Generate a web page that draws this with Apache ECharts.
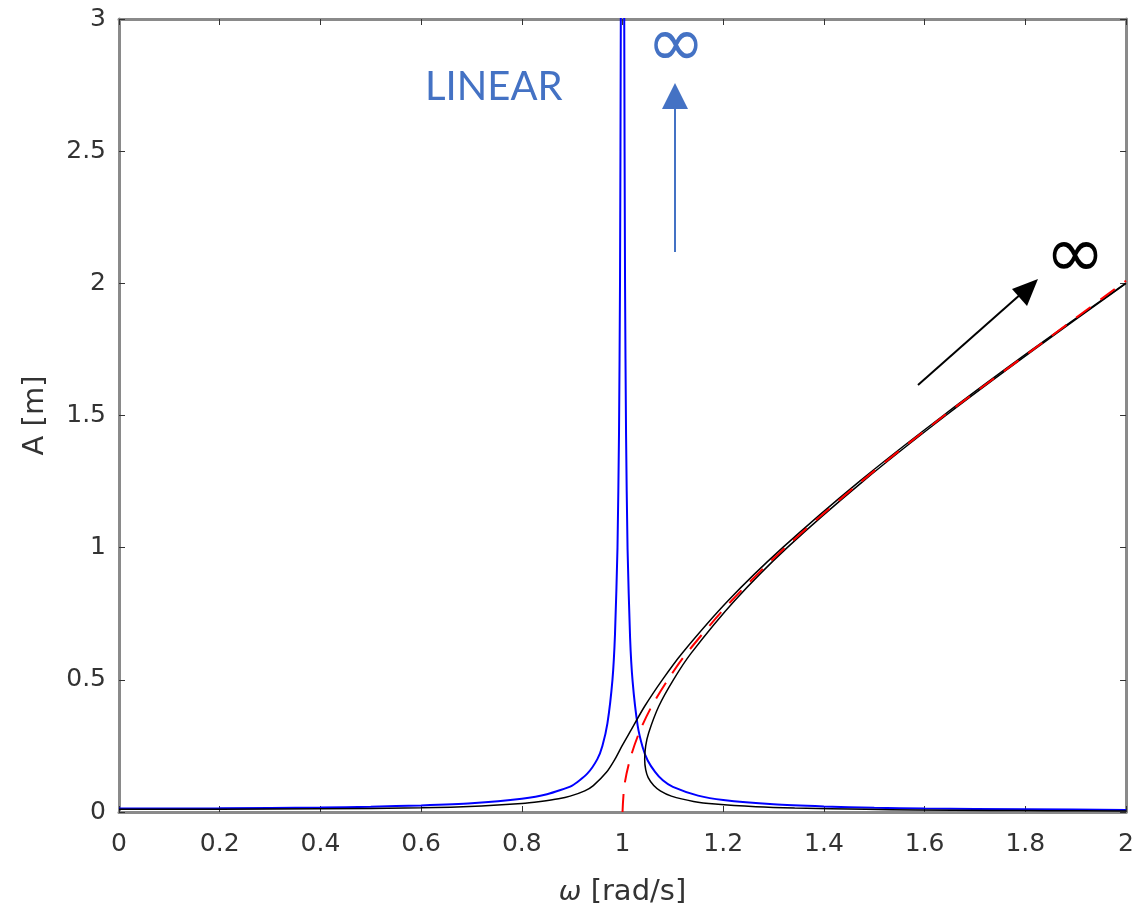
<!DOCTYPE html>
<html>
<head>
<meta charset="utf-8">
<script src="https://cdn.jsdelivr.net/npm/echarts@6/dist/echarts.min.js"></script>
<style>
html,body{margin:0;padding:0;background:#fff;}
#c{width:1137px;height:912px;}
</style>
</head>
<body>
<div id="c"></div>
<script>
// ---- data ----
const xTicks = [0, 0.2, 0.4, 0.6, 0.8, 1, 1.2, 1.4, 1.6, 1.8, 2];
const yTicks = [0, 0.5, 1, 1.5, 2, 2.5, 3];

// linear response (blue)
const linear = [
  [0, 0.013], [0.2, 0.014], [0.4, 0.017], [0.5, 0.02], [0.6, 0.025], [0.7, 0.033],
  [0.8, 0.05], [0.85, 0.067], [0.9, 0.1], [0.93, 0.145], [0.95, 0.2], [0.96, 0.25],
  [0.97, 0.335], [0.98, 0.5], [0.985, 0.67], [0.99, 1.0], [0.993, 1.43], [0.995, 2.0],
  [0.9966, 3.0], [0.998, 5.0], [1.002, 5.0], [1.0034, 3.0], [1.005, 2.0], [1.007, 1.43],
  [1.01, 0.995], [1.015, 0.66], [1.02, 0.495], [1.03, 0.328], [1.04, 0.245], [1.05, 0.195],
  [1.065, 0.151], [1.08, 0.12], [1.1, 0.095], [1.15, 0.062], [1.2, 0.045], [1.3, 0.029],
  [1.4, 0.021], [1.5, 0.016], [1.6, 0.013], [1.8, 0.01], [2.0, 0.008]
];

// nonlinear response, in-phase branch (black)
const nlUpper = [
  [0, 0.01], [0.2, 0.0105], [0.4, 0.012], [0.6, 0.016], [0.72, 0.023], [0.80, 0.032],
  [0.837, 0.04], [0.873, 0.05], [0.896, 0.06], [0.925, 0.08], [0.942, 0.1], [0.968, 0.15],
  [0.985, 0.2], [0.999, 0.25], [1.014, 0.3], [1.044, 0.4], [1.079, 0.5], [1.118, 0.6],
  [1.21, 0.8], [1.318, 1.0], [1.47, 1.25], [1.637, 1.5], [1.814, 1.75], [1.999, 2.0]
];

// nonlinear response, out-of-phase branch (black)
const nlLower = [
  [2.0, 0.004], [1.844, 0.005], [1.732, 0.006], [1.581, 0.008], [1.483, 0.01], [1.342, 0.015],
  [1.265, 0.02], [1.184, 0.03], [1.141, 0.04], [1.097, 0.06], [1.075, 0.08], [1.062, 0.1],
  [1.051, 0.13], [1.046, 0.16], [1.044, 0.2], [1.046, 0.25], [1.052, 0.3], [1.072, 0.4],
  [1.101, 0.5], [1.136, 0.6], [1.223, 0.8], [1.327, 1.0], [1.477, 1.25], [1.642, 1.5],
  [1.818, 1.75], [2.0, 2.0]
];

// backbone curve (red dashed)
const backbone = [
  [1.0, 0], [1.0037, 0.1], [1.015, 0.2], [1.033, 0.3], [1.058, 0.4], [1.09, 0.5],
  [1.127, 0.6], [1.217, 0.8], [1.323, 1.0], [1.474, 1.25], [1.639, 1.5], [1.816, 1.75], [2.0, 2.01]
];

const chart = echarts.init(document.getElementById('c'));
const FONT = '"DejaVu Sans", sans-serif';
const axisLineStyle = {color: '#8a8a8a', width: 3};
const tickStyle = {show: true, inside: true, length: 6, lineStyle: {color: '#333', width: 1}};

chart.setOption({
  animation: false,
  backgroundColor: '#fff',
  grid: {left: 119, top: 19, right: 10, bottom: 96, containLabel: false},
  xAxis: [{
    type: 'value', min: 0, max: 2, interval: 0.2, position: 'bottom',
    axisLine: {show: true, onZero: false, lineStyle: axisLineStyle},
    axisTick: tickStyle,
    splitLine: {show: false},
    axisLabel: {fontFamily: FONT, fontSize: 25, color: '#333', margin: 20},
    name: '{i|ω} [rad/s]', nameLocation: 'middle', nameGap: 66,
    nameTextStyle: {fontFamily: FONT, fontSize: 29, color: '#333',
      rich: {i: {fontFamily: FONT, fontSize: 27, fontStyle: 'italic', color: '#333'}}}
  }, {
    type: 'value', min: 0, max: 2, interval: 0.2, position: 'top',
    axisLine: {show: true, onZero: false, lineStyle: axisLineStyle},
    axisTick: tickStyle, axisLabel: {show: false}, splitLine: {show: false}
  }],
  yAxis: [{
    type: 'value', min: 0, max: 3, interval: 0.5, position: 'left',
    axisLine: {show: true, onZero: false, lineStyle: axisLineStyle},
    axisTick: tickStyle,
    splitLine: {show: false},
    axisLabel: {fontFamily: FONT, fontSize: 25, color: '#333', margin: 13},
    name: 'A [m]', nameLocation: 'middle', nameGap: 69, nameRotate: 90,
    nameTextStyle: {fontFamily: FONT, fontSize: 29, color: '#333'}
  }, {
    type: 'value', min: 0, max: 3, interval: 0.5, position: 'right',
    axisLine: {show: true, onZero: false, lineStyle: axisLineStyle},
    axisTick: tickStyle, axisLabel: {show: false}, splitLine: {show: false}
  }],
  series: [
    {type: 'line', name: 'linear', data: linear, showSymbol: false, smooth: 0.2, clip: true,
     lineStyle: {color: '#0000ff', width: 2}, z: 3},
    {type: 'line', name: 'upper', data: nlUpper, showSymbol: false, smooth: 0.3, clip: true,
     lineStyle: {color: '#000', width: 1.5}, z: 4},
    {type: 'line', name: 'lower', data: nlLower, showSymbol: false, smooth: 0.3, clip: true,
     lineStyle: {color: '#000', width: 1.5}, z: 4},
    {type: 'line', name: 'backbone', data: backbone, showSymbol: false, smooth: 0.3, clip: true,
     lineStyle: {color: '#ff0000', width: 2, type: [18, 12]}, z: 5}
  ],
  graphic: [
    {type: 'text', x: 425, y: 87, style: {text: 'LINEAR', fill: '#4472c4',
      font: '40px Lato, "Open Sans", sans-serif', verticalAlign: 'middle'}},
    {type: 'text', x: 676, y: 48, style: {text: '∞', fill: '#4472c4',
      font: '70px "DejaVu Sans", sans-serif', align: 'center', verticalAlign: 'middle'}},
    {type: 'line', shape: {x1: 675, y1: 252, x2: 675, y2: 105}, style: {stroke: '#4472c4', lineWidth: 2}},
    {type: 'polygon', shape: {points: [[675, 83], [662, 109], [688, 109]]}, style: {fill: '#4472c4'}},
    {type: 'text', x: 1075, y: 258, style: {text: '∞', fill: '#000',
      font: '72px "DejaVu Sans", sans-serif', align: 'center', verticalAlign: 'middle'}},
    {type: 'line', shape: {x1: 918, y1: 385, x2: 1022, y2: 293}, style: {stroke: '#000', lineWidth: 2}},
    {type: 'polygon', shape: {points: [[1038, 279], [1012, 289], [1027, 306]]}, style: {fill: '#000'}}
  ]
});
</script>
</body>
</html>
